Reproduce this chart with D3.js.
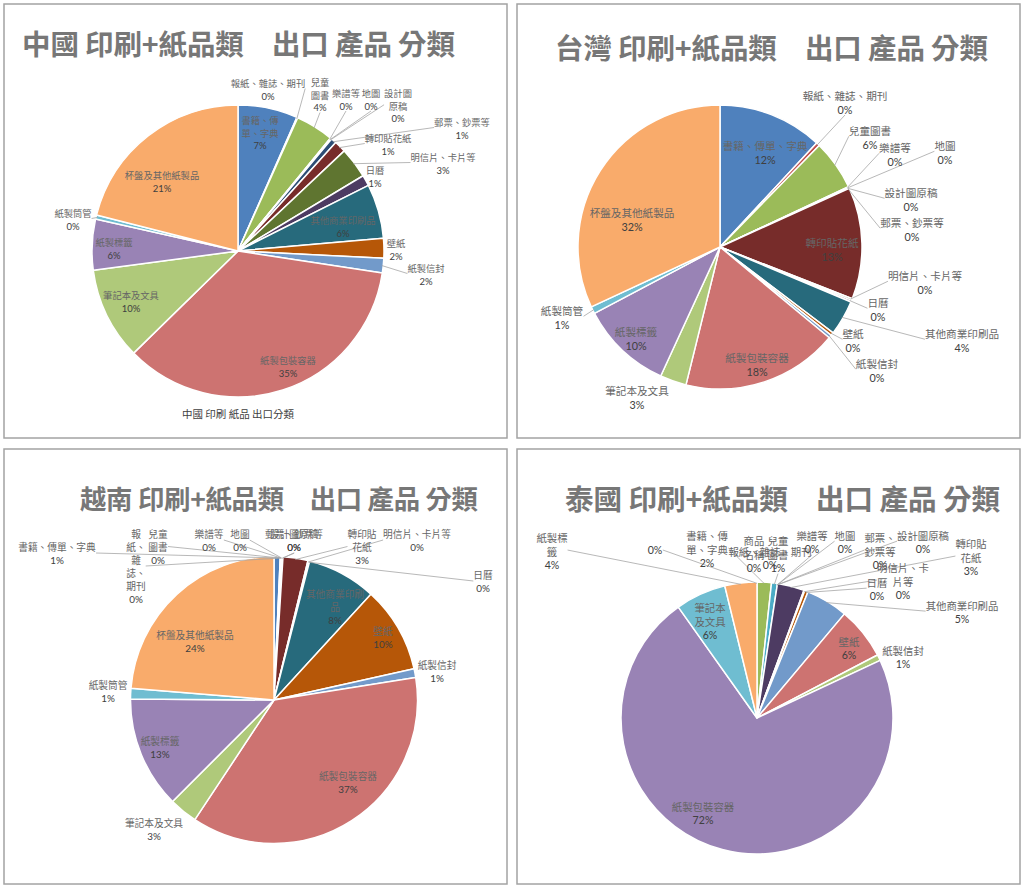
<!DOCTYPE html>
<html><head><meta charset="utf-8">
<script src="https://cdn.jsdelivr.net/npm/d3@7"></script>
<style>body{margin:0;background:#fff}svg{display:block}</style>
</head><body>
<svg id="c" width="1024" height="889"></svg>
<script>
// ---------- DATA ----------
const categories = ["書籍、傳單、字典","報紙、雜誌、期刊","兒童圖書","樂譜等","地圖","設計圖原稿","郵票、鈔票等","轉印貼花紙","明信片、卡片等","日曆","其他商業印刷品","壁紙","紙製信封","紙製包裝容器","筆記本及文具","紙製標籤","紙製筒管","杯盤及其他紙製品"];
const chinaValues   = [6.6,0.1,4.2,0.05,0.05,0.05,0.6,1.3,3.4,1.2,6.0,2.2,1.6,35.2,10.2,5.6,0.45,21.0];
const taiwanValues  = [11.9,0.4,5.7,0.05,0.05,0.05,0.05,12.7,0.2,0.2,4.0,0.35,0.35,17.8,3.0,10.4,0.8,31.9];
const vietnamValues = [0.7,0.05,0.05,0.05,0.05,0.05,0.05,2.8,0.1,0.1,7.8,9.7,1.0,36.8,3.2,12.6,1.2,23.7];
const thaiCategories = ["","商品名稱","書籍、傳單、字典","報紙、雜誌、期刊","兒童圖書","樂譜等","地圖","郵票、鈔票等","設計圖原稿","轉印貼花紙","明信片、卡片等","日曆","其他商業印刷品","壁紙","紙製信封","紙製包裝容器","筆記本及文具","紙製標籤"];
const thaiValues = [0,0,1.7,0,0.7,0,0,0,0,3.2,0.1,0.4,5.0,6.2,0.7,72.0,6.0,3.8];
const titles = ["中國 印刷+紙品類  出口 產品 分類","台灣 印刷+紙品類  出口 產品 分類","越南 印刷+紙品類  出口 產品 分類","泰國 印刷+紙品類  出口 產品 分類"];
const chinaCaption = "中國 印刷 紙品 出口分類";
const palette = ["#4F81BD","#C0504D","#9BBB59","#8064A2","#4BACC6","#F79646","#2C4D75","#772C2A","#5F7530","#4D3B62","#276A7C","#B65708","#729ACA","#CD7371","#AFC97A","#9983B5","#6FBDD1","#F9AB6B"];

// ---------- LABEL LAYOUT (offset from pie centre: dx, dy of first line, wrap chars, leader) ----------
const chinaLabels = [[22,-131,4,0],[30,-168,0,1],[82,-169,2,1],[108,-158,0,1],[133,-158,0,1],[160,-158,3,1],[224,-129,0,1],[150,-113,0,1],[205,-94,0,1],[137,-81,0,0],[105,-31,0,0],[158,-8,0,0],[188,17,0,1],[50,109,0,0],[-107,44,0,0],[-124,-9,0,0],[-165,-38,0,1],[-76,-76,0,0]];
const taiwanLabels = [[45,-102,0,0],[125,-152,0,1],[150,-117,0,1],[175,-100,0,1],[225,-102,0,1],[191,-55,0,1],[192,-25,0,1],[112,-5,0,0],[205,28,0,1],[158,55,0,1],[242,86,0,1],[133,86,0,1],[157,116,0,1],[37,110,0,0],[-83,143,0,0],[-84,84,0,0],[-158,63,0,1],[-88,-35,0,0]];
const vietnamLabels = [[-217,-153,0,1],[-138,-166,2,1],[-116,-166,2,1],[-65,-166,0,1],[-34,-166,0,1],[20,-166,0,1],[20,-166,0,1],[88,-166,3,1],[143,-166,0,1],[209,-125,0,1],[61,-106,6,0],[109,-69,0,0],[163,-35,0,0],[74,76,0,0],[-120,123,0,0],[-114,41,0,0],[-166,-15,0,0],[-79,-65,0,0]];
const thaiLabels = [[-102,-168,0,1],[-3,-178,2,0],[-50,-183,4,1],[13,-167,0,0],[21,-178,2,1],[55,-183,0,1],[88,-183,0,1],[123,-181,3,1],[166,-183,0,1],[214,-175,3,1],[146,-151,5,1],[120,-136,0,1],[205,-113,0,1],[92,-77,0,0],[146,-68,0,0],[-54,88,0,0],[-47,-111,3,0],[-205,-181,3,1]];

const panels = [
  {bx:4,by:4,bw:503,bh:434,title:titles[0],tx:22,tw:433,ty:42,ts:28.5,cx:238,cy:251,r:146,fs:9.3,lh:12.5,names:categories,values:chinaValues,layout:chinaLabels},
  {bx:517,by:4,bw:503,bh:434,title:titles[1],tx:555,tw:433,ty:46,ts:28.5,cx:720,cy:247,r:142,fs:10.6,lh:13.5,names:categories,values:taiwanValues,layout:taiwanLabels},
  {bx:4,by:449,bw:503,bh:435,title:titles[2],tx:80,tw:398,ty:497,ts:26.4,cx:274,cy:700,r:143.5,fs:9.7,lh:13,names:categories,values:vietnamValues,layout:vietnamLabels},
  {bx:517,by:449,bw:503,bh:435,title:titles[3],tx:565,tw:435,ty:497,ts:28.6,cx:757,cy:718,r:136,fs:10.4,lh:13.8,names:thaiCategories,values:thaiValues,layout:thaiLabels}
];

const svg = d3.select("#c");
const nameFont = "'Noto Sans CJK TC','Noto Sans CJK SC',sans-serif";
const pctFont = "Lato,'Open Sans',sans-serif";

function wrapName(name, w){
  if(!name) return [];
  if(!w) return [name];
  const ch=[...name], lines=[]; let i=0;
  while(i<ch.length){
    let line=ch.slice(i,i+w); const next=ch[i+w];
    if(next && "、，。".includes(next) && line.length>1) line=line.slice(0,-1);
    lines.push(line.join("")); i+=line.length;
  }
  return lines;
}

panels.forEach(p=>{
  const g = svg.append("g");
  g.append("rect").attr("x",p.bx).attr("y",p.by).attr("width",p.bw).attr("height",p.bh)
    .attr("fill","#fff").attr("stroke","#a3a3a3").attr("stroke-width",1.5);
  g.append("text").attr("x",p.tx).attr("y",p.ty).attr("dominant-baseline","central")
    .attr("font-family",nameFont).attr("font-weight","bold").attr("font-size",p.ts)
    .attr("textLength",p.tw).attr("lengthAdjust","spacing")
    .attr("fill","#777").style("white-space","pre")
    .text(p.title.replace("  ","\u2002\u2002"));

  const data = p.names.map((n,i)=>({name:n,v:p.values[i],i}));
  const total = d3.sum(data,d=>d.v);
  const arcs = d3.pie().sort(null).value(d=>d.v)(data);
  const arc = d3.arc().innerRadius(0).outerRadius(p.r);
  const edge = d3.arc().innerRadius(p.r*0.99).outerRadius(p.r*0.99);
  const pg = g.append("g").attr("transform",`translate(${p.cx},${p.cy})`);
  pg.selectAll("path.s").data(arcs.filter(a=>a.data.v>0)).join("path").attr("class","s")
    .attr("d",arc).attr("fill",d=>palette[d.data.i%palette.length])
    .attr("stroke","#fff").attr("stroke-width",1.5).attr("stroke-linejoin","round");

  const lg = pg.append("g");
  const tg = pg.append("g");
  arcs.forEach((a,k)=>{
    const L = p.layout[k]; if(!L) return;
    const [dx,dy,w,leader] = L;
    const lines = wrapName(a.data.name,w);
    const pct = Math.round(a.data.v/total*100)+"%";
    const t = tg.append("text").attr("text-anchor","middle").attr("dominant-baseline","central");
    lines.forEach((ln,j)=>{
      t.append("tspan").attr("x",dx).attr("y",dy+j*p.lh).attr("font-family",nameFont)
        .attr("font-size",p.fs).attr("fill","#666").text(ln);
    });
    t.append("tspan").attr("x",dx).attr("y",dy+lines.length*p.lh).attr("font-family",pctFont)
      .attr("font-size",p.fs*1.02).attr("fill","#404040").text(pct);
    if(leader){
      const bb = t.node().getBBox();
      const [ex,ey] = edge.centroid(a);
      const cands = [[bb.x+bb.width/2,bb.y+bb.height],[bb.x+bb.width/2,bb.y],[bb.x,bb.y+bb.height/2],[bb.x+bb.width,bb.y+bb.height/2]];
      let best=cands[0],bd=1e9;
      cands.forEach(c=>{const d=Math.hypot(c[0]-ex,c[1]-ey); if(d<bd){bd=d;best=c;}});
      lg.append("line").attr("x1",best[0]).attr("y1",best[1]).attr("x2",ex).attr("y2",ey)
        .attr("stroke","#a6a6a6").attr("stroke-width",0.8);
    }
  });
  if(p===panels[0]){
    g.append("text").attr("x",238).attr("y",413).attr("text-anchor","middle").attr("dominant-baseline","central")
      .attr("font-family",nameFont).attr("font-size",10.5).attr("fill","#404040").text(chinaCaption);
  }
});
</script>
</body></html>
